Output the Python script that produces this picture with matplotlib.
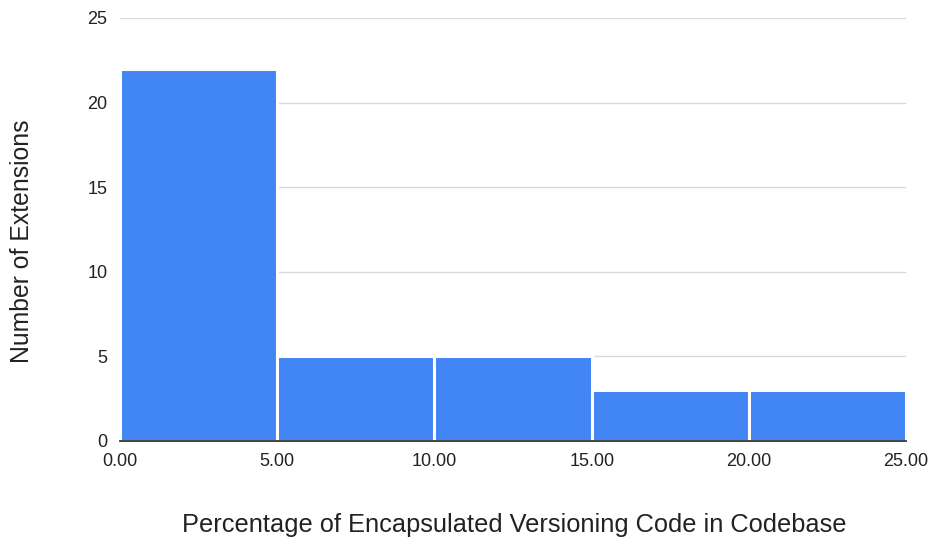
import matplotlib
matplotlib.use("Agg")
import matplotlib.pyplot as plt

plt.rcParams['font.family'] = ['Liberation Sans', 'DejaVu Sans']

bin_edges = [0, 5, 10, 15, 20, 25]
counts = [22, 5, 5, 3, 3]
x_ticks = [0, 5, 10, 15, 20, 25]
x_tick_labels = ["0.00", "5.00", "10.00", "15.00", "20.00", "25.00"]
y_ticks = [0, 5, 10, 15, 20, 25]

fig = plt.figure(figsize=(9.38, 5.43), dpi=100)
ax = fig.add_axes([0.128, 0.188, 0.838, 0.779])

lefts = bin_edges[:-1]
widths = [b - a for a, b in zip(bin_edges[:-1], bin_edges[1:])]
ax.bar(lefts, counts, width=widths, align='edge', color='#4285F4',
       edgecolor='white', linewidth=2.2, zorder=2)

ax.set_xlim(0, 25)
ax.set_ylim(0, 25)
ax.set_xticks(x_ticks)
ax.set_xticklabels(x_tick_labels)
ax.set_yticks(y_ticks)

ax.yaxis.grid(True, color='#d9d9d9', linewidth=1, zorder=0)
ax.set_axisbelow(True)
for side in ['top', 'right', 'left']:
    ax.spines[side].set_visible(False)
ax.spines['bottom'].set_color('#333333')
ax.spines['bottom'].set_linewidth(1.3)
ax.spines['bottom'].set_zorder(3)

ax.tick_params(axis='both', length=0, labelsize=13, labelcolor='#222222')
ax.tick_params(axis='x', pad=9)
ax.tick_params(axis='y', pad=9)

ax.set_xlabel("Percentage of Encapsulated Versioning Code in Codebase",
              fontsize=18.3, color='#222222')
ax.set_ylabel("Number of Extensions", fontsize=17.8, color='#222222')
# place axis titles in figure pixel coordinates
ax.xaxis.set_label_coords(514 / 938, 1 - 525 / 543, transform=fig.transFigure)
ax.yaxis.set_label_coords(22 / 938, 1 - 241 / 543, transform=fig.transFigure)
ax.xaxis.label.set_va('center')
ax.yaxis.label.set_va('center')

fig.savefig("out.png", dpi=100)
